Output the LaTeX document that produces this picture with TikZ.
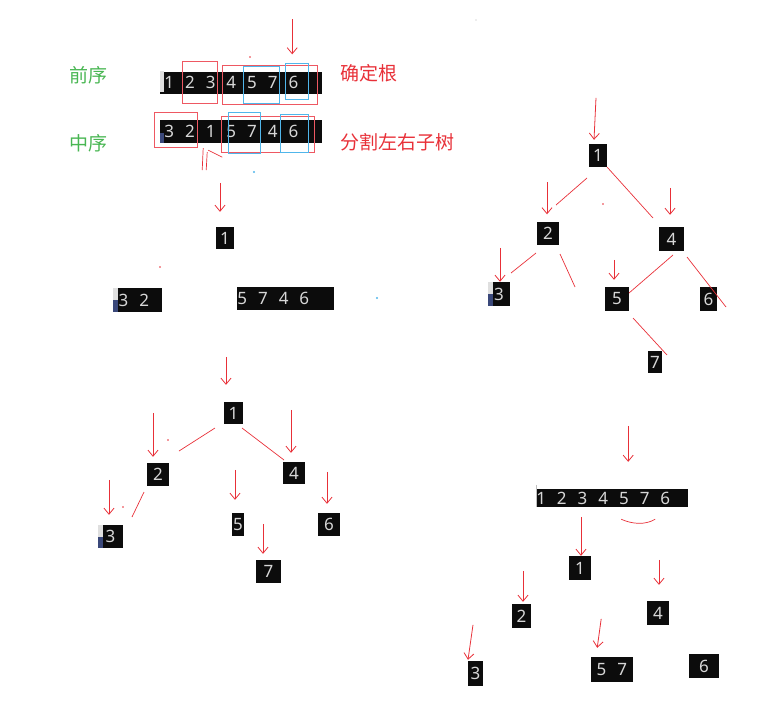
\documentclass[tikz,border=0pt]{standalone}
\usepackage{fontspec}
\setmainfont{Noto Sans}
\newfontfamily\cjk{Noto Sans CJK SC}
\usetikzlibrary{arrows.meta, calc}

\definecolor{penred}{RGB}{232,48,56}
\definecolor{framered}{RGB}{238,88,98}
\definecolor{labgreen}{RGB}{72,182,82}
\definecolor{selblue}{RGB}{80,182,235}
\definecolor{cellbg}{RGB}{12,12,12}
\definecolor{celltxt}{RGB}{215,215,215}
\definecolor{tabblue}{RGB}{58,72,122}

\newcommand{\cell}[1]{\makebox[20.7pt]{#1}}

\begin{document}
\begin{tikzpicture}[
        x=1pt, y=-1pt,
        >={Straight Barb[length=6pt, width=10pt]},
        % Styles
        cellbox/.style={rectangle, fill=cellbg, text=celltxt, inner sep=0pt, minimum width=22pt,
                minimum height=23pt, font=\fontsize{17}{17}\selectfont},
        seqbar/.style={cellbox, anchor=west, align=left, inner xsep=0pt, minimum height=22pt},
        arr/.style={->, penred, line width=0.8pt},
        twig/.style={penred, line width=0.7pt},
        redframe/.style={draw=framered, line width=0.9pt},
        blueframe/.style={draw=selblue, line width=0.9pt},
        greenlab/.style={text=labgreen, font=\cjk\fontsize{19}{19}\selectfont},
        redlab/.style={text=penred, font=\cjk\fontsize{19}{19}\selectfont, anchor=west},
        blotch/.style={fill=tabblue}, ]

        \useasboundingbox (0,0) rectangle (770,716);

        % === PREORDER / INORDER ===
        \node[greenlab] (prelab) at (88,75) {前序};
        \node[greenlab] (inlab) at (88,143) {中序};
        \node[seqbar, text width=162pt] (preord) at (160,82.5)
            {\hspace*{-1.3pt}\cell{1}\cell{2}\cell{3}\cell{4}\cell{5}\cell{7}\cell{6}};
        \node[seqbar, text width=162pt, minimum height=23pt] (inord) at (160,131.5)
            {\hspace*{-1.3pt}\cell{3}\cell{2}\cell{1}\cell{5}\cell{7}\cell{4}\cell{6}};
        \node[redlab] (rootlab) at (337,73) {确定根};
        \node[redlab] (splitlab) at (337,142) {分割左右子树};

        \fill[gray!25] (preord.north west) rectangle ++(4,21);
        \fill[blotch] ($(inord.south west)+(0,-10)$) rectangle ++(4,10);

        % frames round the parts
        \draw[redframe] (182,61) rectangle (217,103);
        \draw[redframe] (222,65) rectangle (317,104);
        \draw[blueframe] (243,66) rectangle (279,103);
        \draw[blueframe] (285,63) rectangle (308,99);
        \draw[redframe] (154,112) rectangle (197,147);
        \draw[redframe] (221,116) rectangle (314,152);
        \draw[blueframe] (228,112) rectangle (260,153);
        \draw[blueframe] (280,114) rectangle (308,152);

        \draw[arr] ($(preord.north)+(51,-52)$) -- ($(preord.north)+(51,-17)$);
        \draw[twig] ($(inord.south)+(-38,5)$) -- ($(inord.south)+(-39,27)$);
        \draw[twig] ($(inord.south)+(-34,9)$) -- ($(inord.south)+(-35,27)$);
        \draw[twig] ($(inord.south)+(-33,7)$) -- ($(inord.south)+(-19,14)$);

        % === FIRST SPLIT ===
        \node[cellbox, minimum width=18pt, minimum height=22pt] (m1) at (225,238) {1};
        \node[seqbar, text width=49pt, minimum height=24pt] (mleft) at (113,300) {\cell{3}\cell{2}};
        \node[seqbar, text width=97pt, minimum height=23pt] (mright) at (237,298.5)
            {\hspace*{-5.3pt}\cell{5}\cell{7}\cell{4}\cell{6}};
        \fill[gray!25] (mleft.north west) rectangle ++(5,12);
        \fill[blotch] ($(mleft.south west)+(0,-12)$) rectangle ++(5,12);

        \draw[arr] ($(m1.north)+(-5,-44)$) -- ($(m1.north)+(-5,-15)$);

        % === TREE (Right) ===
        \node[cellbox, minimum width=18pt] (r1) at (598,155.5) {1};
        \node[cellbox] (r2) at (548,233) {2};
        \node[cellbox, minimum width=25pt, minimum height=24pt] (r4) at (671.5,239) {4};
        \node[cellbox, minimum height=24pt] (r3) at (499,294) {3};
        \node[cellbox, minimum width=24pt, minimum height=24pt] (r5) at (617,299) {5};
        \node[cellbox, minimum width=17pt, minimum height=24pt] (r6) at (708.5,299) {6};
        \node[cellbox, minimum width=14pt, minimum height=22pt] (r7) at (655,362) {7};
        \coordinate (r2nil) at (575,287);
        \fill[gray!25] (r3.north west) rectangle ++(5,12);
        \fill[blotch] ($(r3.south west)+(0,-12)$) rectangle ++(5,12);

        \draw[arr] ($(r1.north)+(-2,-46)$) -- ($(r1.north)+(-4,-4)$);
        \draw[arr] ($(r2.north)+(-1,-39)$) -- ($(r2.north)+(-1,-7)$);
        \draw[arr] ($(r4.north)+(-1.5,-39)$) -- ($(r4.north)+(-1.5,-12)$);
        \draw[arr] ($(r3.north)+(1,-34)$) -- ($(r3.north)+(1,0)$);
        \draw[arr] ($(r5.north)+(-3,-27)$) -- ($(r5.north)+(-3,-7)$);

        \draw[twig] ($(r1)+(-11,22.5)$) -- ($(r2)+(8,-28)$);
        \draw[twig] ($(r1)+(9,11.5)$) -- ($(r4)+(-18.5,-21)$);
        \draw[twig] ($(r2)+(-12,20)$) -- ($(r3)+(12,-21)$);
        \draw[twig] ($(r2)+(12,21)$) -- (r2nil);
        \draw[twig] ($(r4)+(1.5,16)$) -- ($(r5)+(12,-6)$);
        \draw[twig] ($(r4)+(15.5,18)$) -- ($(r6)+(17.5,8)$);
        \draw[twig] ($(r5)+(16,19)$) -- ($(r7)+(12,-7)$);

        % === TREE (Bottom Left) ===
        \node[cellbox, minimum width=19pt, minimum height=22pt] (b1) at (233.5,413) {1};
        \node[cellbox] (b2) at (158,474.5) {2};
        \node[cellbox, minimum height=22pt] (b4) at (294,473) {4};
        \node[cellbox, minimum width=25pt] (b3) at (110.5,536.5) {3};
        \node[cellbox, minimum width=12pt] (b5) at (238,524.5) {5};
        \node[cellbox] (b6) at (329,524.5) {6};
        \node[cellbox, minimum width=25pt] (b7) at (268.5,571.5) {7};
        \fill[gray!25] (b3.north west) rectangle ++(5,12);
        \fill[blotch] ($(b3.south west)+(0,-11)$) rectangle ++(5,11);

        \draw[arr] ($(b1.north)+(-7.5,-45)$) -- ($(b1.north)+(-7.5,-17)$);
        \draw[arr] ($(b2.north)+(-5,-50)$) -- ($(b2.north)+(-5,-6)$);
        \draw[arr] ($(b4.north)+(-3,-52)$) -- ($(b4.north)+(-3,-9)$);
        \draw[arr] ($(b3.north)+(-1.5,-45)$) -- ($(b3.north)+(-1.5,-10)$);
        \draw[arr] ($(b5.north)+(-3,-43)$) -- ($(b5.north)+(-3,-13)$);
        \draw[arr] ($(b6.north)+(-2,-41)$) -- ($(b6.north)+(-2,-9)$);
        \draw[arr] ($(b7.north)+(-5.5,-36)$) -- ($(b7.north)+(-5.5,-6)$);

        \draw[twig] ($(b1)+(-18.5,15)$) -- ($(b2)+(21,-23.5)$);
        \draw[twig] ($(b1)+(8.5,15)$) -- ($(b4)+(-10,-13)$);
        \draw[twig] ($(b2)+(-14,17.5)$) -- ($(b3)+(21.5,-19.5)$);

        % === SEQUENCE SPLIT (Bottom Right) ===
        \node[seqbar, text width=152pt, minimum height=18pt] (fseq) at (536,498)
            {\hspace*{-5.4pt}\cell{1}\cell{2}\cell{3}\cell{4}\cell{5}\cell{7}\cell{6}};
        \node[cellbox, minimum height=24pt] (f1) at (580,568) {1};
        \node[cellbox, minimum height=24pt] (f4) at (658,613) {4};
        \node[cellbox, minimum width=19pt, minimum height=24pt] (f2) at (521.5,616) {2};
        \node[cellbox, minimum width=15pt, minimum height=25pt] (f3) at (475.5,673.5) {3};
        \node[seqbar, text width=42pt, minimum height=25pt] (f57) at (591,669.5) {\cell{5}\cell{7}};
        \node[cellbox, minimum width=30pt, minimum height=24pt] (f6) at (704,666) {6};
        \draw[gray!50, line width=1pt] ($(fseq.north west)+(0,-4)$) -- (fseq.south west);

        \draw[arr] ($(fseq.north)+(16,-63)$) -- ($(fseq.north)+(16,-27)$);
        \draw[arr] ($(f1.north)+(1,-39)$) -- ($(f1.north)+(1,0)$);
        \draw[arr] ($(f4.north)+(1,-41)$) -- ($(f4.north)+(1,-16)$);
        \draw[arr] ($(f2.north)+(1.5,-33)$) -- ($(f2.north)+(1.5,-2)$);
        \draw[arr] ($(f3.north)+(-2.5,-36)$) -- ($(f3.north)+(-7.5,-1)$);
        \draw[arr] ($(f57.north)+(-11,-38)$) -- ($(f57.north)+(-15,-9)$);
        \draw[twig] ($(fseq.south)+(9,12)$) .. controls ($(fseq.south)+(20,17)$)
            and ($(fseq.south)+(33,18)$) .. ($(fseq.south)+(43,12)$);

        % specks
        \foreach \sx/\sy in {250/57, 160/267, 168/440, 123/507, 603/204}
            \fill[penred] (\sx,\sy) circle (0.8);
        \foreach \sx/\sy in {254/172, 377/298}
            \fill[selblue] (\sx,\sy) circle (1.1);
        \fill[gray!60] (476,20) circle (0.6);

    \end{tikzpicture}
\end{document}
